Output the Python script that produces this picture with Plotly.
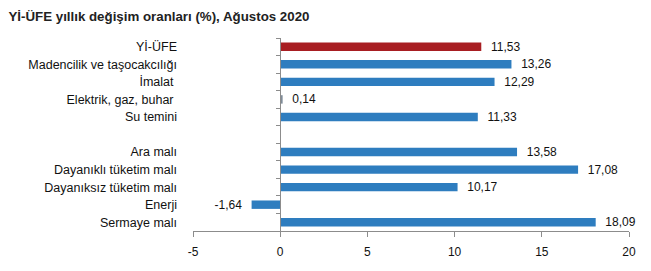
import plotly.graph_objects as go

categories = ["Yİ-ÜFE", "Madencilik ve taşocakcılığı", "İmalat ", "Elektrik, gaz, buhar ",
              "Su temini", " ", "Ara malı", "Dayanıklı tüketim malı",
              "Dayanıksız tüketim malı", "Enerji", "Sermaye malı"]
values = [11.53, 13.26, 12.29, 0.14, 11.33, None, 13.58, 17.08, 10.17, -1.64, 18.09]
colors = ["#A81E22"] + ["#2E7DBF"] * 10
colors[3] = "#7F8C99"

x_ticks = [-5, 0, 5, 10, 15, 20]
x_ticktext = ["-5", "0", "5", "10", "15", "20"]

n = len(categories)
pad = "\u00a0\u00a0"
templates = [(pad + "%{x:.2f}") if (v is not None and v >= 0) else ("%{x:.2f}" + pad)
             for v in values]

fig = go.Figure()
fig.add_trace(go.Bar(
    x=values, y=categories, orientation="h",
    marker=dict(color=colors, line=dict(width=0)),
    width=0.48,
    texttemplate=templates, textposition="outside", cliponaxis=False,
    constraintext="none",
    textfont=dict(family="Liberation Sans, Arial", size=12, color="#111"),
    showlegend=False,
))
# boundary ticks axis drawn at x = 0
fig.add_trace(go.Scatter(x=[], y=[], yaxis="y2", showlegend=False))

font = dict(family="Liberation Sans, Arial", size=12, color="#111")
fig.update_layout(
    width=651, height=271,
    margin=dict(l=193, r=22, t=38, b=38),
    paper_bgcolor="white", plot_bgcolor="white",
    separators=",.",
    font=font,
    bargap=0.5,
    title=dict(text="<b>Yİ-ÜFE yıllık değişim oranları (%), Ağustos 2020</b>",
               x=0.013, xanchor="left", y=0.94, yanchor="middle",
               font=dict(family="Liberation Sans, Arial", size=13.3, color="#222")),
    xaxis=dict(range=[-5, 20], tickvals=x_ticks, ticktext=x_ticktext,
               showgrid=False, zeroline=False,
               showline=True, linecolor="#8c8c8c", linewidth=1,
               ticks="outside", ticklen=5, tickcolor="#8c8c8c",
               tickfont=font, ticklabelstandoff=5, domain=[0, 1]),
    yaxis=dict(type="category", categoryarray=categories, autorange="reversed",
               showgrid=False, zeroline=False, showline=False, ticks="",
               tickfont=dict(family="Liberation Sans, Arial", size=12.5, color="#111"),
               ticklabelstandoff=15),
    yaxis2=dict(overlaying="y", anchor="free", position=0.2,
                range=[n - 0.5, -0.5], tickvals=[i - 0.5 for i in range(n + 1)],
                showticklabels=False, showgrid=False, zeroline=False,
                showline=True, linecolor="#8c8c8c", linewidth=1,
                ticks="outside", ticklen=4, tickcolor="#8c8c8c"),
)
fig.write_html("out.html")
